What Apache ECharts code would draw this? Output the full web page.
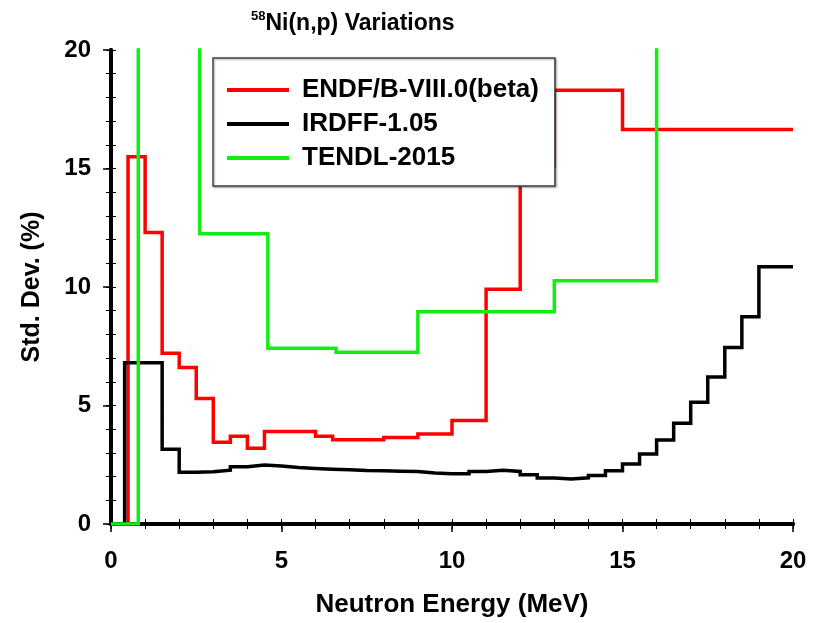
<!DOCTYPE html>
<html>
<head>
<meta charset="utf-8">
<script src="https://cdn.jsdelivr.net/npm/echarts@6/dist/echarts.min.js"></script>
<style>
html,body{margin:0;padding:0;background:#fff;}
#c{width:817px;height:623px;}
</style>
</head>
<body>
<div id="c"></div>
<script>
// ---- data (bin edges in MeV, std. dev. in %) ----
var seriesNames = ['ENDF/B-VIII.0(beta)', 'IRDFF-1.05', 'TENDL-2015'];
var seriesColors = ['#ff0000', '#000000', '#11ee11'];

var redEdges = [0, 0.5, 1.0, 1.5, 2.0, 2.5, 3.0, 3.5, 4.0, 4.5, 6.0, 6.5, 8.0, 9.0, 10.0, 11.0, 12.0, 13.0, 15.0, 20.0];
var redValues = [0, 15.5, 12.3, 7.2, 6.6, 5.3, 3.45, 3.7, 3.2, 3.9, 3.7, 3.55, 3.65, 3.8, 4.37, 9.9, 15.1, 18.3, 16.65];

var blackEdges = [0, 0.4, 1.5, 2.0, 2.5, 3.0, 3.5, 4.0, 4.5, 5.0, 5.5, 6.0, 6.5, 7.0, 7.5, 8.0, 8.5, 9.0, 9.5, 10.0, 10.5, 11.0, 11.5, 12.0, 12.5, 13.0, 13.5, 14.0, 14.5, 15.0, 15.5, 16.0, 16.5, 17.0, 17.5, 18.0, 18.5, 19.0, 20.0];
var blackValues = [0, 6.8, 3.15, 2.18, 2.2, 2.27, 2.42, 2.49, 2.45, 2.38, 2.34, 2.31, 2.29, 2.26, 2.25, 2.23, 2.22, 2.15, 2.12, 2.12, 2.22, 2.27, 2.22, 2.08, 1.94, 1.9, 1.95, 2.05, 2.25, 2.53, 2.95, 3.54, 4.25, 5.14, 6.2, 7.45, 8.75, 10.85];

// values above 20 % run off the top of the plot
var greenEdges = [0, 0.8, 2.6, 4.6, 6.6, 9.0, 13.0, 16.0, 20.0];
var greenValues = [0, 30, 12.25, 7.42, 7.25, 8.96, 10.26, 30];

var xTicks = [0, 5, 10, 15, 20];
var yTicks = [0, 5, 10, 15, 20];

function histPoints(edges, values) {
  var pts = [];
  for (var i = 0; i < values.length; i++) pts.push([edges[i], values[i]]);
  pts.push([edges[edges.length - 1], values[values.length - 1]]);
  return pts;
}

var FONT = '"Liberation Sans", Arial, Helvetica, sans-serif';
var chart = echarts.init(document.getElementById('c'), null, {renderer: 'canvas'});

var majorX = {
  type: 'value', position: 'bottom', min: xTicks[0], max: xTicks[xTicks.length - 1], interval: 5,
  axisLine: {show: true, lineStyle: {color: '#000', width: 4}},
  axisTick: {show: true, inside: false, length: 8, lineStyle: {color: '#000', width: 1.5}},
  axisLabel: {show: true, margin: 25, color: '#000', fontSize: 24, fontWeight: 'bold', fontFamily: FONT},
  splitLine: {show: false},
  name: 'Neutron Energy (MeV)', nameLocation: 'middle', nameGap: 68,
  nameTextStyle: {color: '#000', fontSize: 26, fontWeight: 'bold', fontFamily: FONT}
};
var minorXBottom = {
  type: 'value', position: 'bottom', min: 0, max: 20, interval: 1,
  axisLine: {show: false}, axisTick: {show: true, inside: true, length: 5, lineStyle: {color: '#000', width: 1}},
  axisLabel: {show: false}, splitLine: {show: false}
};
var minorXTop = {
  type: 'value', position: 'top', min: 0, max: 20, interval: 1,
  axisLine: {show: true, lineStyle: {color: '#000', width: 4}},
  axisTick: {show: true, inside: true, length: 5, lineStyle: {color: '#000', width: 1}},
  axisLabel: {show: false}, splitLine: {show: false}
};
var majorY = {
  type: 'value', position: 'left', min: yTicks[0], max: yTicks[yTicks.length - 1], interval: 5,
  axisLine: {show: true, lineStyle: {color: '#000', width: 4}},
  axisTick: {show: true, inside: false, length: 8, lineStyle: {color: '#000', width: 1.5}},
  axisLabel: {show: true, margin: 20, color: '#000', fontSize: 24, fontWeight: 'bold', fontFamily: FONT},
  splitLine: {show: false},
  name: 'Std. Dev. (%)', nameLocation: 'middle', nameGap: 66,
  nameTextStyle: {color: '#000', fontSize: 25, fontWeight: 'bold', fontFamily: FONT}
};
var minorYLeft = {
  type: 'value', position: 'left', min: 0, max: 20, interval: 1,
  axisLine: {show: false}, axisTick: {show: true, inside: true, length: 5, lineStyle: {color: '#000', width: 1}},
  axisLabel: {show: false}, splitLine: {show: false}
};
var minorYRight = {
  type: 'value', position: 'right', min: 0, max: 20, interval: 1,
  axisLine: {show: true, lineStyle: {color: '#000', width: 4}},
  axisTick: {show: true, inside: true, length: 5, lineStyle: {color: '#000', width: 1}},
  axisLabel: {show: false}, splitLine: {show: false}
};

var dataSets = [histPoints(redEdges, redValues), histPoints(blackEdges, blackValues), histPoints(greenEdges, greenValues)];
var series = dataSets.map(function (d, i) {
  return {
    name: seriesNames[i], type: 'line', step: 'end', data: d,
    xAxisIndex: 0, yAxisIndex: 0, showSymbol: false, symbol: 'none', clip: true,
    lineStyle: {color: seriesColors[i], width: 3.5, join: 'miter', cap: 'butt'},
    itemStyle: {color: seriesColors[i]},
    z: 3 + i, animation: false
  };
});

chart.setOption({
  animation: false,
  backgroundColor: '#fff',
  title: {
    text: '{sup|58}{main|Ni(n,p) Variations}',
    left: 246, top: 5,
    textStyle: {
      rich: {
        sup: {fontSize: 13, fontWeight: 'bold', color: '#000', fontFamily: FONT, verticalAlign: 'top', lineHeight: 28},
        main: {fontSize: 23, fontWeight: 'bold', color: '#000', fontFamily: FONT, lineHeight: 28}
      }
    }
  },
  grid: {left: 111, right: 24, top: 50, bottom: 96, containLabel: false},
  legend: {
    orient: 'vertical', left: 213, top: 58,
    padding: [19, 16, 15, 14],
    itemGap: 8,
    itemWidth: 62, itemHeight: 4, icon: 'rect',
    backgroundColor: '#fff', borderColor: '#444', borderWidth: 1.5,
    shadowColor: 'rgba(0,0,0,0.35)', shadowBlur: 2, shadowOffsetX: 1, shadowOffsetY: 1,
    data: seriesNames,
    textStyle: {color: '#000', fontSize: 26, fontWeight: 'bold', fontFamily: FONT, lineHeight: 20, padding: [0, 0, 0, 8]},
    z: 20
  },
  xAxis: [majorX, minorXBottom, minorXTop],
  yAxis: [majorY, minorYLeft, minorYRight],
  series: series
});
</script>
</body>
</html>
